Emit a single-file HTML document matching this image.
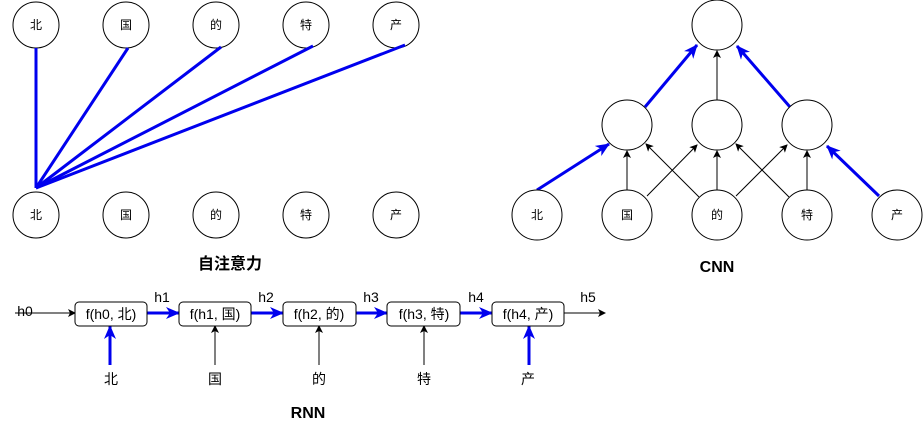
<!DOCTYPE html>
<html><head><meta charset="utf-8"><style>body{margin:0;background:#fff}</style></head><body>
<svg width="923" height="431" viewBox="0 0 923 431" xmlns="http://www.w3.org/2000/svg" font-family="Liberation Sans, Noto Sans CJK SC, sans-serif">
<defs>
<marker id="ab" markerWidth="8" markerHeight="8" refX="7" refY="4" orient="auto" markerUnits="userSpaceOnUse"><path d="M0,0 L8,4 L0,8 L2,4z" fill="#000"/></marker>
<marker id="ablue" markerWidth="14" markerHeight="12" refX="13" refY="6" orient="auto" markerUnits="userSpaceOnUse"><path d="M0,0 L14,6 L0,12 L4,6z" fill="#0000ee"/></marker>
</defs>
<g fill="#fff" stroke="#000" stroke-width="1">
<circle cx="36" cy="25" r="23"/><circle cx="126" cy="25" r="23"/><circle cx="216" cy="25" r="23"/><circle cx="306" cy="25" r="23"/><circle cx="396" cy="25" r="23"/>
<circle cx="36" cy="215" r="23"/><circle cx="126" cy="215" r="23"/><circle cx="216" cy="215" r="23"/><circle cx="306" cy="215" r="23"/><circle cx="396" cy="215" r="23"/>
</g>
<g stroke="#0000ee" stroke-width="3">
<line x1="36" y1="188" x2="36" y2="48"/><line x1="36" y1="188" x2="128" y2="48"/><line x1="36" y1="188" x2="221" y2="47"/><line x1="36" y1="188" x2="313" y2="46"/><line x1="36" y1="188" x2="405" y2="45"/>
</g>
<g font-size="12" text-anchor="middle">
<text x="36" y="29">北</text><text x="126" y="29">国</text><text x="216" y="29">的</text><text x="306" y="29">特</text><text x="396" y="29">产</text>
<text x="36" y="219">北</text><text x="126" y="219">国</text><text x="216" y="219">的</text><text x="306" y="219">特</text><text x="396" y="219">产</text>
</g>
<text x="230" y="269" font-size="16" font-weight="bold" text-anchor="middle">自注意力</text>
<!-- CNN -->
<g stroke="#000" stroke-width="1" marker-end="url(#ab)">
<line x1="717" y1="100" x2="717" y2="51"/>
<line x1="627" y1="190" x2="627" y2="151"/><line x1="717" y1="190" x2="717" y2="151"/><line x1="807" y1="190" x2="807" y2="151"/>
<line x1="647" y1="196" x2="697" y2="145"/><line x1="699" y1="197" x2="646" y2="144"/>
<line x1="736" y1="196" x2="787" y2="145"/><line x1="789" y1="197" x2="736" y2="144"/>
</g>
<g stroke="#0000ee" stroke-width="3" marker-end="url(#ablue)">
<line x1="537" y1="190" x2="609" y2="144"/><line x1="879" y1="196" x2="827" y2="146"/>
<line x1="645" y1="107" x2="697" y2="45"/><line x1="790" y1="107" x2="737" y2="46"/>
</g>
<g fill="#fff" stroke="#000">
<circle cx="717" cy="25" r="25"/><circle cx="627" cy="125" r="25"/><circle cx="717" cy="125" r="25"/><circle cx="807" cy="125" r="25"/>
<circle cx="537" cy="215" r="25"/><circle cx="627" cy="215" r="25"/><circle cx="717" cy="215" r="25"/><circle cx="807" cy="215" r="25"/><circle cx="897" cy="215" r="25"/>
</g>
<g font-size="12" text-anchor="middle">
<text x="537" y="219">北</text><text x="627" y="219">国</text><text x="717" y="219">的</text><text x="807" y="219">特</text><text x="897" y="219">产</text>
</g>
<text x="717" y="272" font-size="16" font-weight="bold" text-anchor="middle">CNN</text>
<!-- RNN -->
<g stroke="#000" stroke-width="1" marker-end="url(#ab)">
<line x1="15" y1="313" x2="75" y2="313"/><line x1="564" y1="313" x2="605" y2="313"/>
<line x1="215" y1="365" x2="215" y2="326"/><line x1="319" y1="365" x2="319" y2="326"/><line x1="424" y1="365" x2="424" y2="326"/>
</g>
<g stroke="#0000ee" stroke-width="3" marker-end="url(#ablue)">
<line x1="147" y1="313" x2="179" y2="313"/><line x1="251" y1="313" x2="283" y2="313"/><line x1="356" y1="313" x2="387" y2="313"/><line x1="460" y1="313" x2="492" y2="313"/>
<line x1="110" y1="365" x2="110" y2="326"/><line x1="529" y1="365" x2="529" y2="326"/>
</g>
<g fill="#fff" stroke="#000">
<rect x="75" y="302" width="72" height="24" rx="4"/><rect x="179" y="302" width="72" height="24" rx="4"/><rect x="283" y="302" width="73" height="24" rx="4"/><rect x="387" y="302" width="73" height="24" rx="4"/><rect x="492" y="302" width="72" height="24" rx="4"/>
</g>
<g font-size="14" text-anchor="middle">
<text x="111" y="319">f(h0, 北)</text><text x="215" y="319">f(h1, 国)</text><text x="319" y="319">f(h2, 的)</text><text x="424" y="319">f(h3, 特)</text><text x="528" y="319">f(h4, 产)</text>
<text x="25" y="316">h0</text><text x="162" y="302">h1</text><text x="266" y="302">h2</text><text x="371" y="302">h3</text><text x="476" y="302">h4</text><text x="588" y="302">h5</text>
<text x="111" y="384">北</text><text x="215" y="384">国</text><text x="319" y="384">的</text><text x="424" y="384">特</text><text x="528" y="384">产</text>
</g>
<text x="308" y="418" font-size="16" font-weight="bold" text-anchor="middle">RNN</text>
</svg>
</body></html>
